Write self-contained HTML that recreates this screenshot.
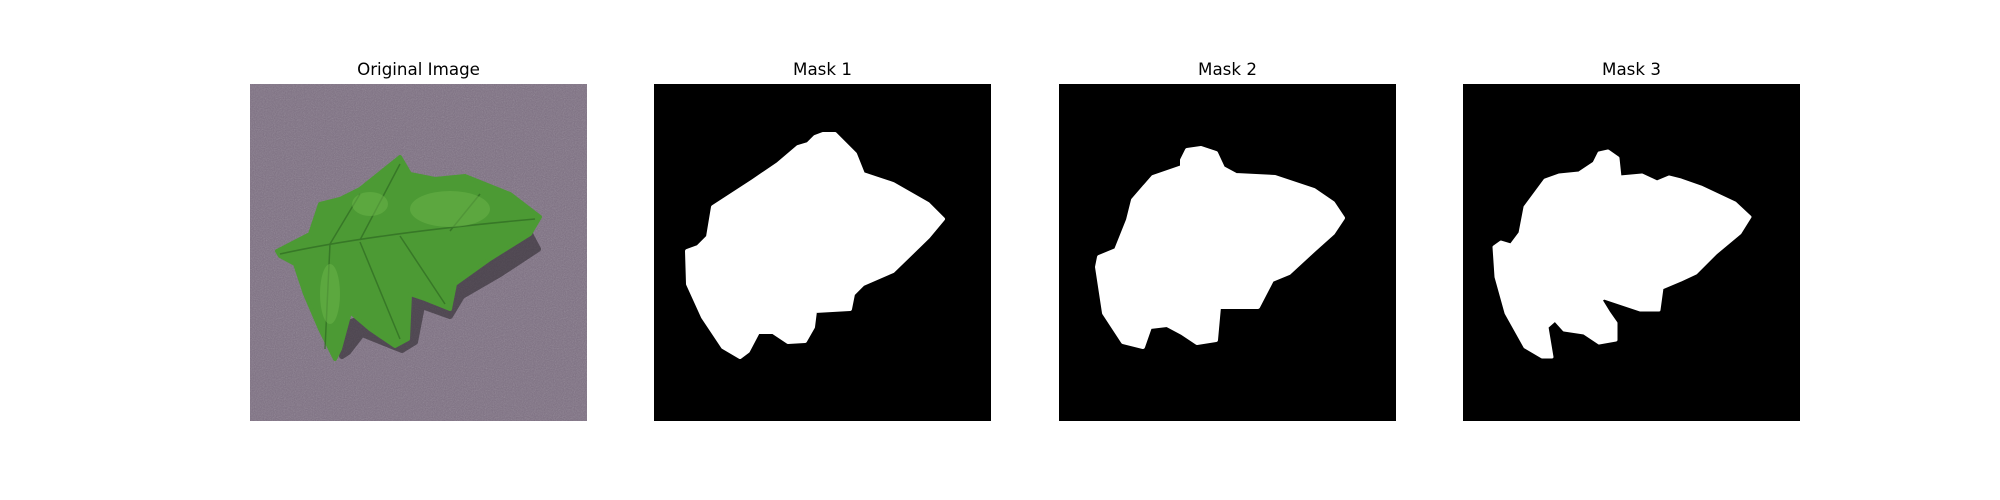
<!DOCTYPE html>
<html><head><meta charset="utf-8"><style>
body{margin:0;background:#fff;width:2000px;height:500px;overflow:hidden;font-family:"DejaVu Sans","Liberation Sans",sans-serif}
.t{position:absolute;top:59px;width:337px;text-align:center;font-size:16.7px;color:#000}
svg{position:absolute;top:84px}
</style></head><body>
<div class="t" style="left:250px">Original Image</div>
<div class="t" style="left:654px">Mask 1</div>
<div class="t" style="left:1059px">Mask 2</div>
<div class="t" style="left:1463px">Mask 3</div>

<svg style="left:250px" width="337" height="337">
<defs><filter id="n"><feTurbulence type="fractalNoise" baseFrequency="0.9" numOctaves="2"/><feColorMatrix type="saturate" values="0"/><feComponentTransfer><feFuncA type="linear" slope="0.3"/></feComponentTransfer></filter></defs>
<rect width="337" height="337" fill="#7d6f82"/>
<rect width="337" height="337" filter="url(#n)"/>
<polygon fill="#2f2a30" opacity="0.6" stroke="#2f2a30" stroke-width="6" stroke-linejoin="round" points="280,150 288,165 250,190 212,212 200,232 172,222 165,258 152,266 112,250 98,268 92,272 96,240 200,200"/>
<polygon fill="#4c9a34" stroke="#4c9a34" stroke-width="4" stroke-linejoin="round" points="27,167 60,150 70,120 90,115 110,105 150,73 160,90 185,95 215,92 260,110 290,133 280,150 240,175 205,200 200,225 175,215 160,210 158,255 145,262 120,245 100,228 90,265 85,275 70,245 55,210 45,180 30,172"/>
<g stroke="#2f6a22" stroke-width="1.5" fill="none" opacity="0.7">
<path d="M30,170 Q120,150 285,135"/><path d="M80,160 L110,110"/><path d="M110,156 L150,80"/><path d="M80,160 L75,265"/><path d="M110,158 L150,255"/><path d="M150,152 L195,220"/><path d="M200,147 L230,110"/>
</g>
<g fill="#6cb54a" opacity="0.5"><ellipse cx="200" cy="125" rx="40" ry="18"/><ellipse cx="120" cy="120" rx="18" ry="12"/><ellipse cx="80" cy="210" rx="10" ry="30"/></g>
</svg>

<svg style="left:654px" width="337" height="337">
<rect width="337" height="337" fill="#000"/>
<polygon fill="#fff" stroke="#fff" stroke-width="4" stroke-linejoin="round" points="169,50 181,50 194,63 201,70 209,90 224,95 239,100 274,120 289,135 274,153 239,187 209,200 199,210 196,225 161,227 159,243 151,257 134,258 119,248 104,248 94,267 86,273 69,263 49,233 34,200 33,167 44,163 54,153 59,123 79,110 99,97 124,80 144,63 154,60 161,53"/>
</svg>

<svg style="left:1059px" width="337" height="337">
<rect width="337" height="337" fill="#000"/>
<polygon fill="#fff" stroke="#fff" stroke-width="4" stroke-linejoin="round" points="128,66 142,64 157,69 164,84 177,91 216,93 255,106 274,119 284,134 274,149 255,166 230,189 213,196 199,223 160,223 157,256 138,259 123,249 108,241 91,243 84,263 64,258 45,229 38,183 40,173 57,166 69,136 74,116 94,93 123,83 123,76"/>
</svg>

<svg style="left:1463px" width="337" height="337">
<rect width="337" height="337" fill="#000"/>
<polygon fill="#fff" stroke="#fff" stroke-width="3" stroke-linejoin="round" points="136,69 145,67 155,74 157,93 179,91 194,98 206,93 218,96 238,103 272,119 287,133 277,149 253,169 233,189 218,196 199,204 196,226 177,226 141,214 138,216 146,229 153,239 153,256 136,259 121,249 101,246 92,236 84,243 89,273 79,273 62,263 43,229 33,193 31,163 38,158 48,161 57,149 62,123 82,96 96,91 116,89 131,79"/>
</svg>
</body></html>
